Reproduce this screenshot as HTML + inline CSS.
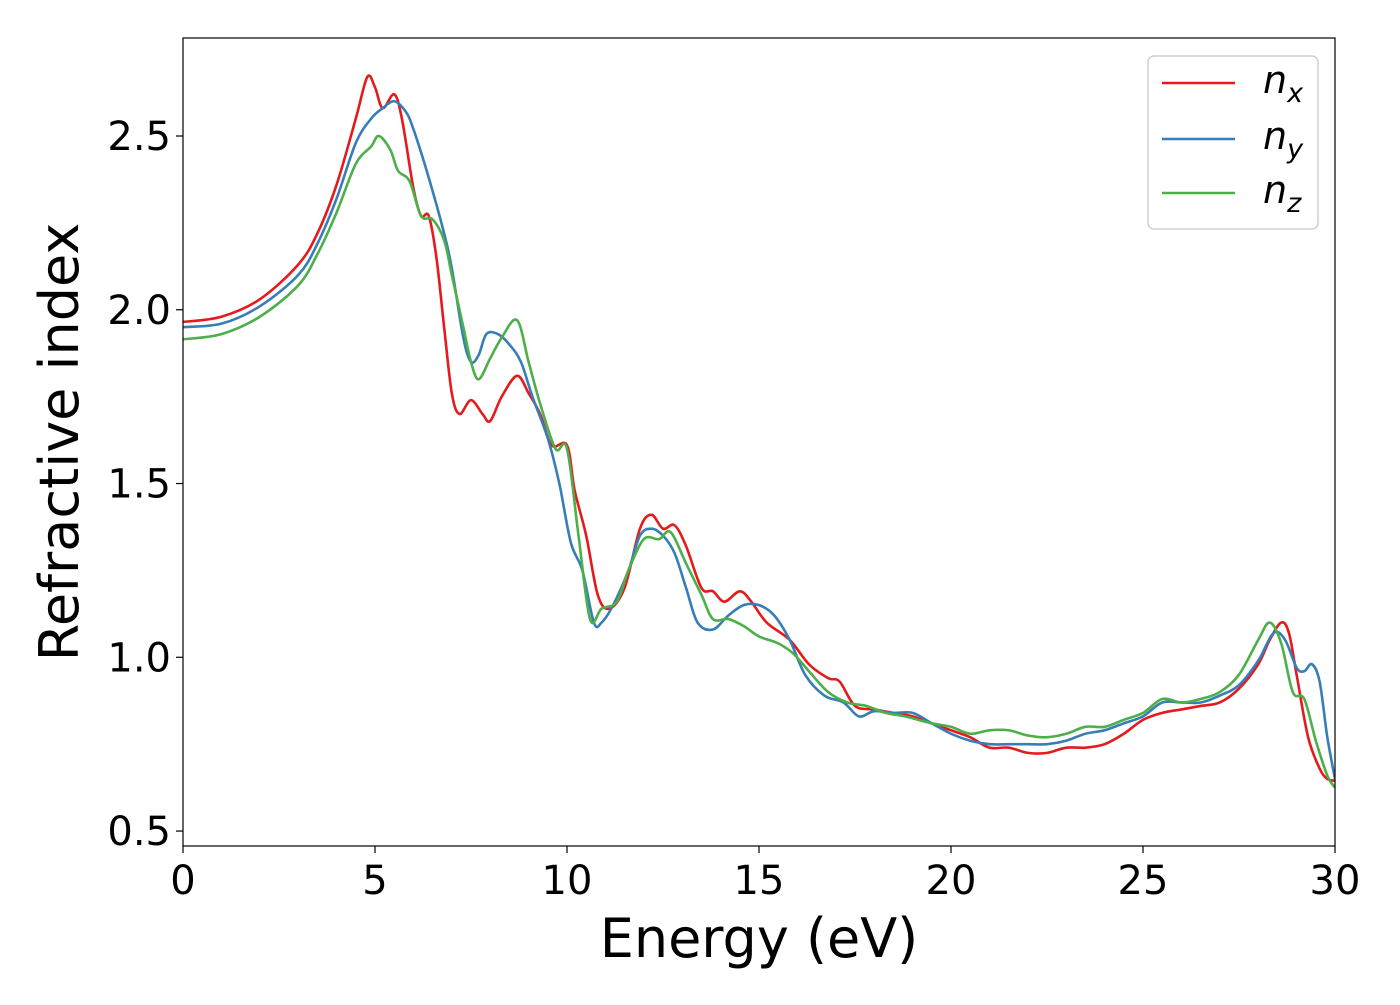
<!DOCTYPE html>
<html><head><meta charset="utf-8"><style>
body{margin:0;background:#fff;}
svg text{font-family:"DejaVu Sans","Liberation Sans",sans-serif;}
</style></head><body>
<svg id="chart" width="1400" height="1000" xmlns="http://www.w3.org/2000/svg">
<rect width="1400" height="1000" fill="#fff"/>
<g id="plot"></g>
<g id="axes"></g>
</svg>
<script>
const energyTicks=[0,5,10,15,20,25,30];
const indexTicks=[0.5,1.0,1.5,2.0,2.5];
const indexTickLabels=["0.5","1.0","1.5","2.0","2.5"];
const nxE=[0,1,2,3,3.5,4,4.5,4.8,5.0,5.2,5.5,5.7,6.0,6.2,6.4,6.6,6.8,7.0,7.2,7.5,7.8,8.0,8.3,8.7,9.0,9.3,9.6,10.0,10.2,10.5,10.8,11.1,11.5,11.9,12.2,12.5,12.8,13.1,13.5,13.8,14.1,14.5,14.8,15.2,15.8,16.3,16.8,17.1,17.5,18,18.5,19,19.5,20,20.5,21,21.5,22,22.5,23,23.5,24,24.5,25,25.5,26,26.5,27,27.5,28,28.3,28.6,28.8,29,29.3,29.6,29.8,30];
const nxV=[1.965,1.98,2.03,2.13,2.22,2.36,2.55,2.67,2.64,2.58,2.62,2.55,2.35,2.27,2.27,2.15,1.95,1.76,1.70,1.74,1.70,1.68,1.75,1.81,1.76,1.70,1.61,1.61,1.48,1.35,1.18,1.14,1.20,1.37,1.41,1.37,1.38,1.32,1.20,1.19,1.16,1.19,1.16,1.10,1.05,0.98,0.94,0.93,0.86,0.85,0.84,0.83,0.81,0.79,0.77,0.74,0.74,0.725,0.725,0.74,0.74,0.75,0.78,0.82,0.84,0.85,0.86,0.87,0.91,0.98,1.05,1.10,1.07,0.95,0.77,0.68,0.65,0.645];
const nyE=[0,1,2,3,3.5,4,4.5,4.9,5.2,5.5,5.8,6.0,6.4,6.8,7.0,7.3,7.5,7.7,7.9,8.2,8.5,8.8,9.1,9.5,9.8,10.1,10.4,10.7,10.9,11.2,11.6,11.9,12.2,12.5,12.8,13.1,13.4,13.8,14.2,14.6,15,15.4,15.8,16.2,16.7,17.2,17.6,18,18.5,19,19.5,20,20.5,21,21.5,22,22.5,23,23.5,24,24.5,25,25.5,26,26.5,27,27.5,28,28.4,28.7,29,29.2,29.4,29.6,29.8,30];
const nyV=[1.95,1.96,2.01,2.10,2.19,2.32,2.48,2.55,2.58,2.60,2.57,2.52,2.38,2.22,2.12,1.92,1.85,1.87,1.93,1.93,1.90,1.85,1.75,1.63,1.50,1.33,1.25,1.10,1.10,1.15,1.25,1.35,1.37,1.35,1.30,1.20,1.10,1.08,1.12,1.15,1.15,1.12,1.05,0.95,0.89,0.87,0.83,0.845,0.84,0.84,0.81,0.78,0.76,0.75,0.75,0.75,0.75,0.76,0.78,0.79,0.81,0.83,0.87,0.87,0.87,0.89,0.92,0.99,1.07,1.05,0.97,0.96,0.98,0.93,0.77,0.65];
const nzE=[0,1,2,3,3.5,4,4.5,4.9,5.1,5.4,5.6,5.9,6.2,6.5,6.8,7.0,7.3,7.5,7.7,8.0,8.3,8.7,9.0,9.3,9.7,10.0,10.3,10.6,10.9,11.3,11.6,12.0,12.4,12.7,13.1,13.5,13.8,14.2,14.6,15,15.5,15.9,16.3,16.8,17.3,17.8,18.3,18.8,19.5,20,20.5,21,21.5,22,22.5,23,23.5,24,24.5,25,25.5,26,26.5,27,27.5,28,28.3,28.6,28.9,29.2,29.5,29.8,30];
const nzV=[1.915,1.93,1.98,2.07,2.16,2.28,2.42,2.47,2.50,2.46,2.40,2.37,2.27,2.26,2.20,2.10,1.95,1.85,1.80,1.86,1.92,1.97,1.85,1.73,1.60,1.60,1.35,1.11,1.14,1.16,1.25,1.34,1.34,1.36,1.27,1.18,1.11,1.11,1.09,1.06,1.04,1.01,0.96,0.90,0.87,0.86,0.84,0.83,0.81,0.80,0.78,0.79,0.79,0.775,0.77,0.78,0.80,0.80,0.82,0.84,0.88,0.87,0.88,0.90,0.95,1.05,1.10,1.04,0.90,0.88,0.76,0.66,0.625];

const X0=183,X1=1335,Y0=846,Y1=38,xmin=0,xmax=30,ymin=0.457,ymax=2.782;
const xs=v=>X0+(v-xmin)/(xmax-xmin)*(X1-X0);
const ys=v=>Y0-(v-ymin)/(ymax-ymin)*(Y0-Y1);
const NS="http://www.w3.org/2000/svg";
const plot=document.getElementById('plot'),axes=document.getElementById('axes');
function mk(tag,attrs,parent){const e=document.createElementNS(NS,tag);for(const k in attrs)e.setAttribute(k,attrs[k]);parent.appendChild(e);return e;}
function smooth(E,V){const p=E.map((e,i)=>[xs(e),ys(V[i])]);let d=`M${p[0][0]},${p[0][1]}`;
for(let i=0;i<p.length-1;i++){const a=p[Math.max(i-1,0)],b=p[i],c=p[i+1],n=p[Math.min(i+2,p.length-1)];
d+=`C${b[0]+(c[0]-a[0])/6},${b[1]+(c[1]-a[1])/6} ${c[0]-(n[0]-b[0])/6},${c[1]-(n[1]-b[1])/6} ${c[0]},${c[1]}`;}return d;}
const defs=mk('defs',{},plot);const cp=mk('clipPath',{id:'clip'},defs);mk('rect',{x:X0,y:Y1,width:X1-X0,height:Y0-Y1},cp);
const g=mk('g',{'clip-path':'url(#clip)'},plot);
const series=[[nxE,nxV,'#e41a1c','nx-line'],[nyE,nyV,'#377eb8','ny-line'],[nzE,nzV,'#4daf4a','nz-line']];
series.forEach(s=>{const el=mk('path',{d:smooth(s[0],s[1]),fill:'none',stroke:s[2],'stroke-width':2.6},g);

});
const frame=mk('rect',{x:X0,y:Y1,width:X1-X0,height:Y0-Y1,fill:'none',stroke:'#000','stroke-width':1.2},axes);


energyTicks.forEach(t=>{const x=xs(t);mk('line',{x1:x,x2:x,y1:Y0,y2:Y0+7,stroke:'#000','stroke-width':1.2},axes);
const tx=mk('text',{x:x,y:Y0+48,'font-size':40,'text-anchor':'middle'},axes);tx.textContent=t;

});
indexTicks.forEach((t,i)=>{const y=ys(t);mk('line',{x1:X0-7,x2:X0,y1:y,y2:y,stroke:'#000','stroke-width':1.2},axes);
const tx=mk('text',{x:X0-12,y:y+14,'font-size':40,'text-anchor':'end'},axes);tx.textContent=indexTickLabels[i];

});
const xt=mk('text',{x:759,y:957,'font-size':54,'text-anchor':'middle'},axes);xt.textContent='Energy (eV)';


const yt=mk('text',{x:78,y:442,'font-size':54,'text-anchor':'middle',transform:'rotate(-90 78 442)'},axes);yt.textContent='Refractive index';


const lg=mk('g',{},axes);


mk('rect',{x:1148,y:56,width:170,height:173,rx:6,fill:'#fff',stroke:'#d0d0d0','stroke-width':1.5},lg);
const labs=['x','y','z'],ly=[83,139,193];
series.forEach((s,i)=>{mk('line',{x1:1162,x2:1235,y1:ly[i],y2:ly[i],stroke:s[2],'stroke-width':2.6},lg);
const t=mk('text',{x:1263,y:ly[i]+10,'font-size':38,'font-style':'italic'},lg);
t.innerHTML=`n<tspan font-size="27" dy="9">${labs[i]}</tspan>`;

});
</script>
</body></html>
